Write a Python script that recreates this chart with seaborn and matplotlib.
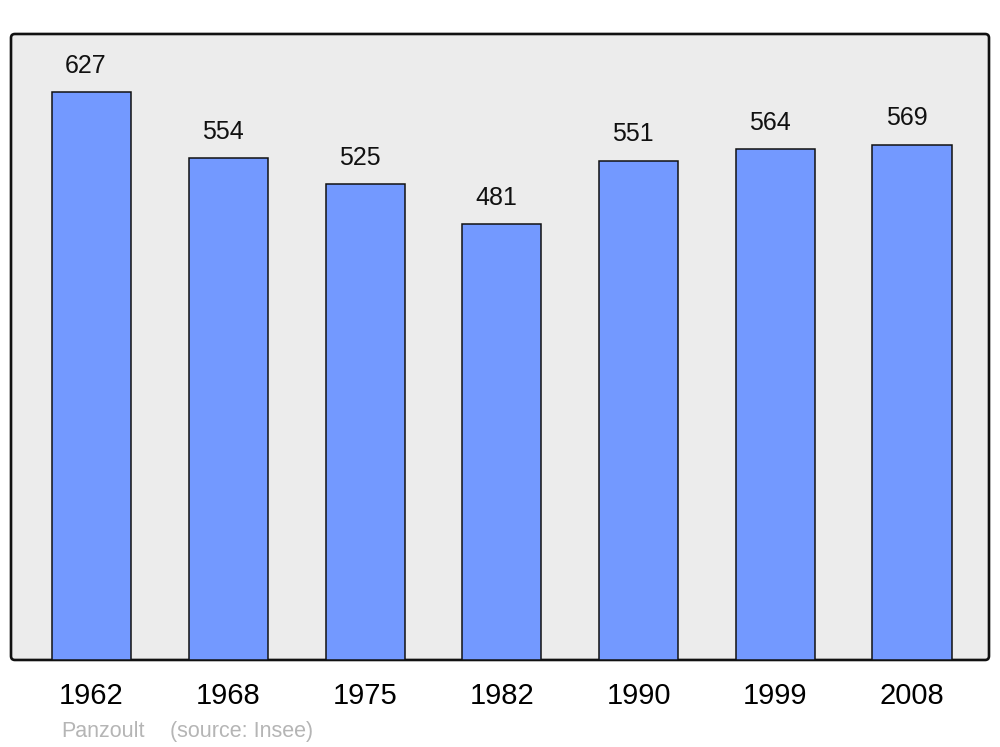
import matplotlib
matplotlib.use("Agg")
import matplotlib.pyplot as plt
from matplotlib.patches import FancyBboxPatch
import seaborn as sns
import pandas as pd

years = ["1962", "1968", "1975", "1982", "1990", "1999", "2008"]
population = [627, 554, 525, 481, 551, 564, 569]
commune = "Panzoult"
source = "(source: Insee)"

sns.set_theme(style="white")
plt.rcParams['font.family'] = ['Liberation Sans', 'DejaVu Sans']

df = pd.DataFrame({"year": years, "pop": population})

fig = plt.figure(figsize=(10, 7.47), dpi=100)
ax = fig.add_axes([0.011, 0.1165, 0.978, 0.838])
ax.set_facecolor("none")

frame = FancyBboxPatch((0, 0), 1, 1, boxstyle="round,pad=0,rounding_size=0.004",
                       mutation_aspect=978/626, transform=ax.transAxes,
                       facecolor="#ececec", edgecolor="#111111", linewidth=1.9,
                       zorder=0, clip_on=False)
ax.add_patch(frame)

sns.barplot(data=df, x="year", y="pop", color="#7399ff", saturation=1,
            edgecolor="#111111", linewidth=1.1, width=0.578, ax=ax, zorder=2)

for i, v in enumerate(population):
    ax.annotate(str(v), (i, v), xytext=(-4, 19), textcoords="offset points",
                ha="center", va="center", fontsize=18, color="#111111")

ax.set_xlim(-0.589, 6.563)
ax.set_ylim(0, 691)
ax.set_yticks([])
ax.set_xlabel("")
ax.set_ylabel("")
for s in ax.spines.values():
    s.set_visible(False)
ax.tick_params(axis="x", length=0, pad=16, labelsize=21, labelcolor="#000000")
for lbl in ax.get_xticklabels():
    lbl.set_x(lbl.get_position()[0])

fig.text(0.061, 0.0214, commune, fontsize=15.5, color="#b5b5b5", va="center", ha="left")
fig.text(0.170, 0.0214, source, fontsize=15.5, color="#b5b5b5", va="center", ha="left")

fig.savefig("out.png", dpi=100, facecolor="white")
